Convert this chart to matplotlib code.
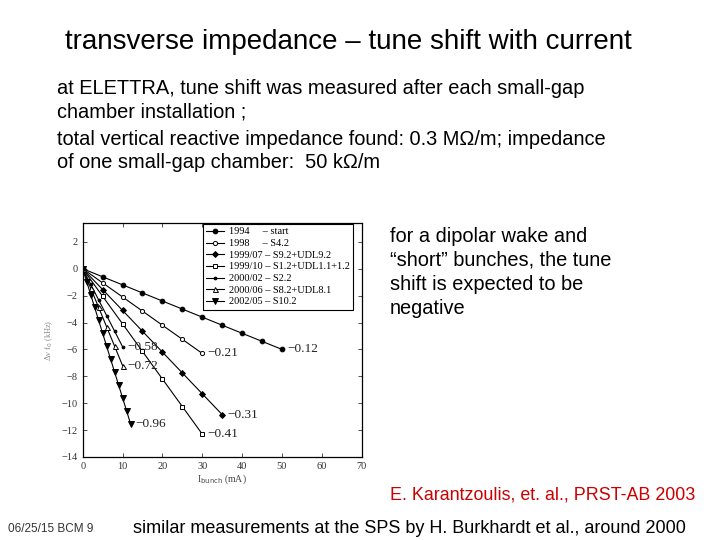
import matplotlib
matplotlib.use("Agg")
import matplotlib.pyplot as plt

# ── Data: tune shift vs bunch current (ELETTRA) ─────────────────────────────
labels = ["1994     \u2013 start",
          "1998     \u2013 S4.2",
          "1999/07 \u2013 S9.2+UDL9.2",
          "1999/10 \u2013 S1.2+UDL1.1+1.2",
          "2000/02 \u2013 S2.2",
          "2000/06 \u2013 S8.2+UDL8.1",
          "2002/05 \u2013 S10.2"]

x_1994 = [0, 5, 10, 15, 20, 25, 30, 35, 40, 45, 50]
y_1994 = [0, -0.6, -1.2, -1.8, -2.4, -3.0, -3.6, -4.2, -4.8, -5.4, -6.0]

x_1998 = [0, 5, 10, 15, 20, 25, 30]
y_1998 = [0, -1.05, -2.1, -3.15, -4.2, -5.25, -6.3]

x_9907 = [0, 5, 10, 15, 20, 25, 30, 35]
y_9907 = [0, -1.55, -3.1, -4.65, -6.2, -7.75, -9.3, -10.85]

x_9910 = [0, 5, 10, 15, 20, 25, 30]
y_9910 = [0, -2.05, -4.1, -6.15, -8.2, -10.25, -12.3]

x_0002 = [0, 2, 4, 6, 8, 10]
y_0002 = [0, -1.16, -2.32, -3.48, -4.64, -5.8]

x_0006 = [0, 2, 4, 6, 8, 10]
y_0006 = [0, -1.44, -2.88, -4.32, -5.76, -7.2]

x_0205 = [0, 1, 2, 3, 4, 5, 6, 7, 8, 9, 10, 11, 12]
y_0205 = [0, -0.96, -1.92, -2.88, -3.84, -4.8, -5.76, -6.72, -7.68, -8.64,
          -9.6, -10.56, -11.52]

slopes = ["\u22120.12", "\u22120.21", "\u22120.31", "\u22120.41",
          "\u22120.58", "\u22120.72", "\u22120.96"]

xs = [x_1994, x_1998, x_9907, x_9910, x_0002, x_0006, x_0205]
ys = [y_1994, y_1998, y_9907, y_9910, y_0002, y_0006, y_0205]

# marker style per series (filled / open)
styles = [dict(marker="o", ms=3.4, mfc="black"),
          dict(marker="o", ms=3.0, mfc="white"),
          dict(marker="D", ms=3.0, mfc="black"),
          dict(marker="s", ms=2.8, mfc="white"),
          dict(marker="o", ms=2.0, mfc="black"),
          dict(marker="^", ms=3.6, mfc="white"),
          dict(marker="v", ms=4.2, mfc="black")]

W, H = 720, 540
fig = plt.figure(figsize=(7.2, 5.4), dpi=100)
fig.patch.set_facecolor("white")

def px(x, y):
    return x / W, 1 - y / H

sans = ["Liberation Sans", "DejaVu Sans"]
serif = ["Liberation Serif", "DejaVu Serif"]

# ── Slide texts ───────────────────────────────────────────────────────────────
fig.text(*px(65, 49), "transverse impedance \u2013 tune shift with current",
         fontsize=20, family=sans, va="baseline", ha="left")

body = ["at ELETTRA, tune shift was measured after each small-gap",
        "chamber installation ;",
        "total vertical reactive impedance found: 0.3 M\u03a9/m; impedance",
        "of one small-gap chamber:  50 k\u03a9/m"]
for line, yb in zip(body, [94, 117, 145, 168]):
    fig.text(*px(57, yb), line, fontsize=14.4, family=sans, va="baseline")

side = ["for a dipolar wake and",
        "\u201cshort\u201d bunches, the tune",
        "shift is expected to be",
        "negative"]
for line, yb in zip(side, [242, 266, 290, 314]):
    fig.text(*px(390, yb), line, fontsize=14.4, family=sans, va="baseline")

fig.text(*px(390, 500), "E. Karantzoulis, et. al., PRST-AB 2003",
         fontsize=12.9, family=sans, color="#cc0000", va="baseline")
fig.text(*px(133, 533),
         "similar measurements at the SPS by H. Burkhardt et al., around 2000",
         fontsize=13, family=sans, va="baseline")
fig.text(*px(8, 532), "06/25/15 BCM 9", fontsize=8.5, family=sans,
         color="#333333", va="baseline")

# ── Embedded chart ───────────────────────────────────────────────────────────
ax = fig.add_axes([82.7 / W, 1 - 457 / H, 279 / W, 234 / H])
for xv, yv, lab, st in zip(xs, ys, labels, styles):
    ax.plot(xv, yv, color="black", lw=0.8, mec="black", mew=0.7,
            label=lab, **st)

for xv, yv, s in zip(xs, ys, slopes):
    ax.text(xv[-1] + 1.3, yv[-1], s, fontsize=9.5, family=serif,
            va="center", ha="left", color="#222222")

ax.set_xlim(0, 70)
ax.set_ylim(-14, 3.4)
ax.set_xticks(range(0, 71, 10))
ax.set_yticks(range(-14, 3, 2))
ax.set_yticklabels([f"\u2212{abs(t)}" if t < 0 else str(t)
                    for t in range(-14, 3, 2)])
ax.tick_params(direction="in", top=True, right=True, length=3, width=0.6,
               labelsize=7.5, colors="#333333", labelcolor="#333333")
for lab in ax.get_xticklabels() + ax.get_yticklabels():
    lab.set_family(serif)
for sp in ax.spines.values():
    sp.set_linewidth(0.9)

ax.set_xlabel("I$_{\\rm bunch}$ (mA)", fontsize=7, family=serif,
              color="#444444", labelpad=1)
ax.set_ylabel("\u0394\u03bd f$_0$ (kHz)", fontsize=6, family=serif,
              color="#888888", labelpad=5)

leg = ax.legend(loc="upper right", bbox_to_anchor=(0.970, 0.997),
                prop={"family": serif, "size": 7.4},
                labelspacing=0.24, handlelength=1.7, handletextpad=0.5,
                borderpad=0.35, borderaxespad=0.0, fancybox=False,
                framealpha=1, edgecolor="black")
leg.get_frame().set_linewidth(0.8)

fig.savefig("out.png", dpi=100)
